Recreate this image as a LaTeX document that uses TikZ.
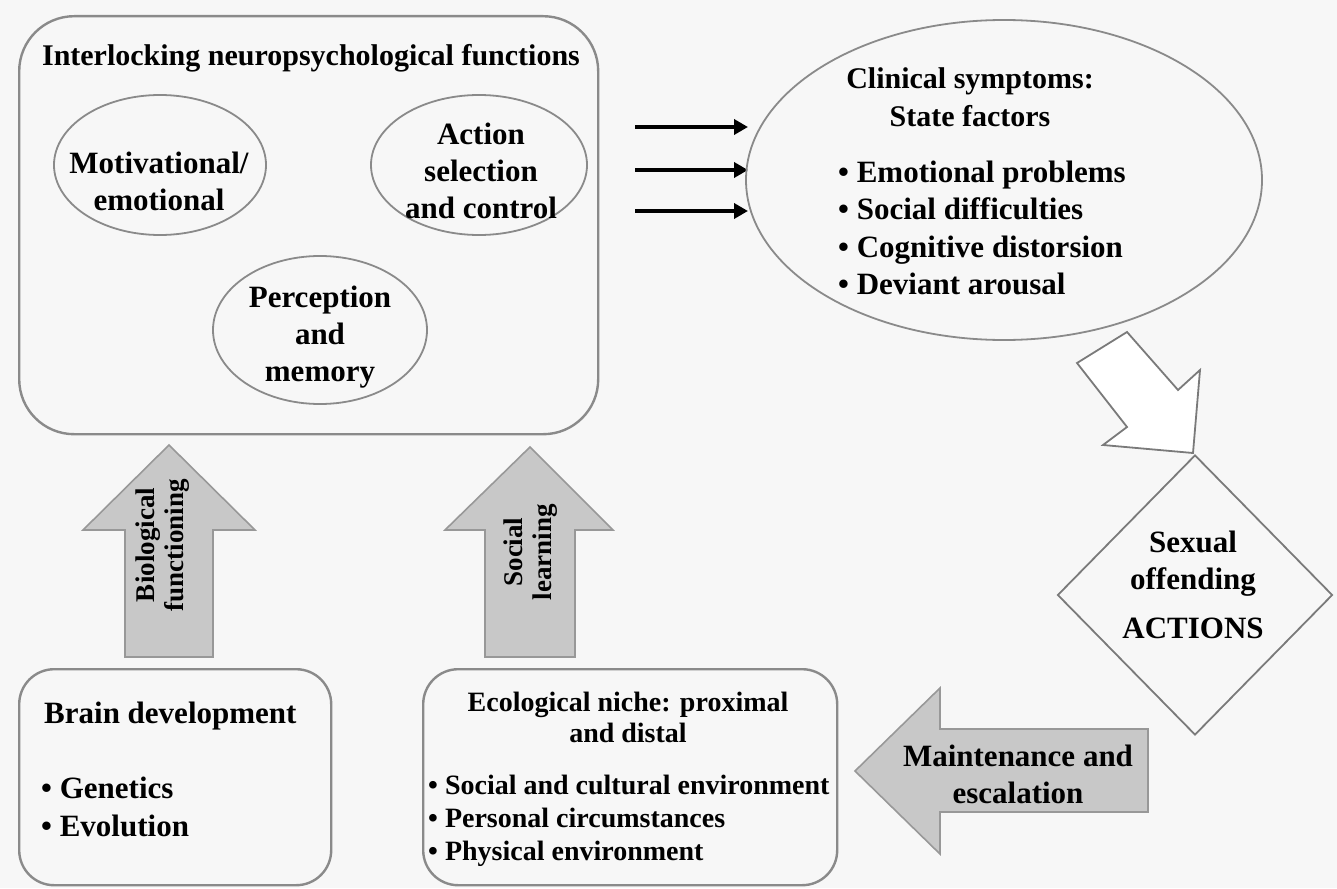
\documentclass[tikz,border=0pt]{standalone}
\usepackage{fontspec}
\setmainfont{Liberation Serif}
\usetikzlibrary{arrows.meta,shapes.geometric,calc}
\definecolor{bg}{HTML}{F7F7F7}
\definecolor{edge}{HTML}{8A8A8A}
\definecolor{blockfill}{HTML}{C8C8C8}
\definecolor{blockedge}{HTML}{989898}
\definecolor{hollowedge}{HTML}{7A7A7A}
\begin{document}
\begin{tikzpicture}[x=1pt,y=-1pt,
  roundbox/.style={draw=edge, line width=2.4pt, rectangle, inner sep=0pt, anchor=north west},
  oval/.style={draw=edge, line width=1.8pt, ellipse, inner sep=0pt},
  txt/.style={font=\fontsize{31}{37}\selectfont\bfseries, align=center, inner sep=0pt},
  ltxt/.style={font=\fontsize{31}{37.5}\selectfont\bfseries, align=left, inner sep=0pt, anchor=west},
  smalltxt/.style={font=\fontsize{28}{33}\selectfont\bfseries, align=left, inner sep=0pt, anchor=west},
  rottxt/.style={font=\fontsize{27}{29}\selectfont\bfseries, align=center, inner sep=0pt, rotate=90},
  block/.style={fill=blockfill, draw=blockedge, line width=1.6pt, line join=miter},
  hollow/.style={fill=white, draw=hollowedge, line width=1.8pt, line join=miter},
  thinarrow/.style={line width=4pt, -{Triangle[length=14pt,width=15pt]}}
]
\useasboundingbox (0,0) rectangle (1337,888);
\fill[bg] (0,0) rectangle (1337,888);

% top-left frame
\node[roundbox, minimum width=579pt, minimum height=418pt, rounded corners=55pt] (nf) at (18,15) {};
\node[txt, font=\fontsize{30}{37}\selectfont\bfseries] (nftitle) at (311,58) {Interlocking neuropsychological functions};

\node[oval, minimum width=212pt, minimum height=140pt] (mot) at (160,165) {};
\node[txt] (mottxt) at (159,181) {Motivational/\\emotional};

\node[oval, minimum width=216pt, minimum height=140pt] (act) at (479,165) {};
\node[txt] (acttxt) at (481,171) {Action\\selection\\and control};

\node[oval, minimum width=214pt, minimum height=148pt] (per) at (320,330) {};
\node[txt] (pertxt) at (320,337) {Perception\\and\\memory};

% three arrows
\coordinate (a1s) at (635,127); \coordinate (a1e) at (748,127);
\coordinate (a2s) at (635,170); \coordinate (a2e) at (748,170);
\coordinate (a3s) at (635,211); \coordinate (a3e) at (748,211);
\draw[thinarrow] (a1s) -- (a1e);
\draw[thinarrow] (a2s) -- (a2e);
\draw[thinarrow] (a3s) -- (a3e);

% clinical symptoms ellipse
\node[oval, minimum width=516pt, minimum height=320pt] (clin) at (1004,180) {};
\node[txt, font=\fontsize{30}{38}\selectfont\bfseries] (clintitle) at (970,97) {Clinical symptoms:\\State factors};
\node[ltxt] (clinlist) at (838,228) {\textbullet\ Emotional problems\\\textbullet\ Social difficulties\\\textbullet\ Cognitive distorsion\\\textbullet\ Deviant arousal};

% hollow arrow to diamond
\draw[hollow] (1077,363) -- (1127,332) -- (1178,390) -- (1200,370) -- (1193,453) -- (1103,445) -- (1127,427) -- cycle;

% diamond
\node[draw=hollowedge, line width=1.8pt, diamond, inner sep=0pt, minimum width=275pt, minimum height=280pt] (sex) at (1195,595) {};
\node[txt] (sextxt) at (1193,564) {Sexual\\offending};
\node[txt] (acttitle) at (1193,628) {ACTIONS};

% biological functioning arrow
\draw[block] (125,657) -- (125,530) -- (83,530) -- (169,445) -- (255,530) -- (213,530) -- (213,657) -- cycle;
\node[rottxt] (biotxt) at (163,545) {Biological\\functioning};

% social learning arrow
\draw[block] (485,657) -- (485,530) -- (445,530) -- (530,447) -- (613,530) -- (575,530) -- (575,657) -- cycle;
\node[rottxt] (soctxt) at (531,552) {Social\\learning};

% maintenance arrow
\draw[block] (1148,729) -- (940,729) -- (940,688) -- (855,771) -- (940,854) -- (940,812) -- (1148,812) -- cycle;
\node[txt] (maint) at (1018,774) {Maintenance and\\escalation};

% brain development box
\node[roundbox, minimum width=312pt, minimum height=216pt, rounded corners=35pt] (brain) at (18,668) {};
\node[ltxt] (braintitle) at (44,716) {Brain development};
\node[ltxt] (brainlist) at (41,807) {\textbullet\ Genetics\\\textbullet\ Evolution};

% ecological niche box
\node[roundbox, minimum width=414pt, minimum height=216pt, rounded corners=35pt] (eco) at (422,668) {};
\node[font=\fontsize{28}{31}\selectfont\bfseries, align=center, inner sep=0pt] (ecotitle) at (628,717) {Ecological niche: proximal\\and distal};
\node[smalltxt] (ecolist) at (428,821) {\textbullet\ Social and cultural environment\\\textbullet\ Personal circumstances\\\textbullet\ Physical environment};
\end{tikzpicture}
\end{document}
